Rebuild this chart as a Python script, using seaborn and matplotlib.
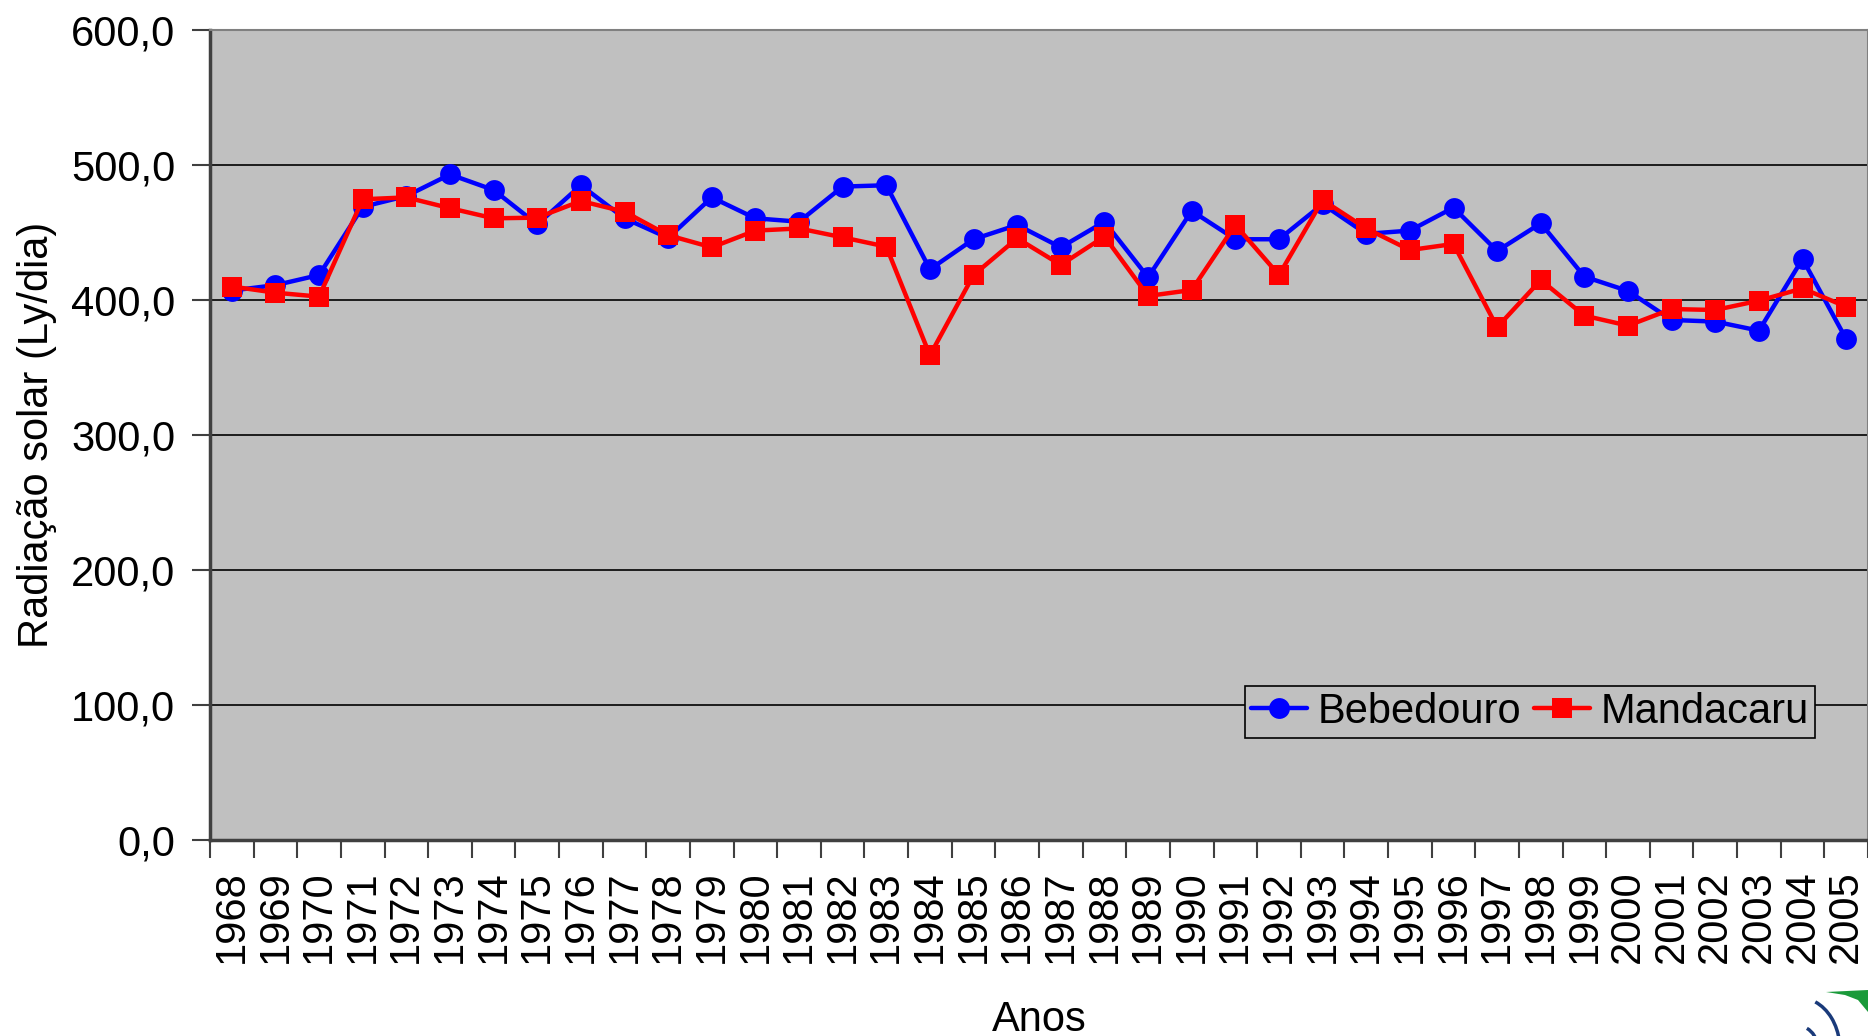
import matplotlib
matplotlib.use("Agg")
import matplotlib.pyplot as plt
import seaborn as sns
import pandas as pd
import numpy as np
from matplotlib.ticker import FuncFormatter, FixedLocator
from matplotlib.patches import Polygon, Arc

sns.set_theme(style="white")
plt.rcParams['font.family'] = ['Liberation Sans', 'DejaVu Sans']
plt.rcParams['text.color'] = 'black'
plt.rcParams['axes.labelcolor'] = 'black'
plt.rcParams['xtick.color'] = 'black'
plt.rcParams['ytick.color'] = 'black'

years = list(range(1968, 2006))
bebedouro = [407, 411, 418.5, 469, 477, 493, 481.5, 456, 485, 460.5, 446, 476, 460.5,
             458, 484, 485, 422.7, 445, 455.6, 439, 458, 416.8, 466, 445, 445,
             471, 449, 451.4, 468.4, 436.3, 456.8, 417.3, 406.7, 385.2, 384, 377.3, 430.4, 371]
mandacaru = [410, 405.4, 402.5, 474.6, 476, 468, 460.5, 461, 473.3, 465.4, 448, 439, 451.4,
             453, 446.4, 439.5, 359, 418.5, 445.7, 426, 447, 403, 407.4, 455.6, 418.5,
             474, 453, 437, 441.5, 379.8, 414.8, 388.4, 381, 393.3, 392.6, 399.5, 408.6, 395]
series_names = ["Bebedouro", "Mandacaru"]
y_ticks = [0, 100, 200, 300, 400, 500, 600]

df = pd.DataFrame({
    "Ano": years * 2,
    "Radiação": bebedouro + mandacaru,
    "Local": [series_names[0]] * len(years) + [series_names[1]] * len(years),
})

FS = 30
W, H = 1868, 1036

fig = plt.figure(figsize=(18.68, 10.36), dpi=100)
ax = fig.add_axes([210 / W, 1 - 840 / H, 1 - 210 / W, (840 - 30) / H])
ax.set_facecolor("#c0c0c0")

sns.lineplot(data=df, x="Ano", y="Radiação", hue="Local", style="Local",
             palette={"Bebedouro": "#0000ff", "Mandacaru": "#ff0000"},
             markers={"Bebedouro": "o", "Mandacaru": "s"},
             dashes=False, linewidth=3.2, markersize=15, markeredgewidth=0,
             ax=ax, legend=True, zorder=3)

ax.set_xlim(1967.5, 2005.5)
ax.set_ylim(0, 600)
ax.yaxis.set_major_locator(FixedLocator(y_ticks))
ax.yaxis.set_major_formatter(FuncFormatter(lambda v, p: f"{v:.1f}".replace(".", ",")))
ax.grid(axis="y", color="black", linewidth=1.2, zorder=1)
ax.set_axisbelow(True)

ax.set_xticks(years)
ax.set_xticklabels([str(y) for y in years], rotation=90, fontsize=FS)
ax.set_xticks(np.arange(1967.5, 2006, 1), minor=True)
ax.tick_params(axis="x", which="major", length=0, pad=22)
ax.tick_params(axis="x", which="minor", length=13, width=1.5, color="#404040", direction="out", bottom=True)
ax.tick_params(axis="y", which="major", length=13, width=1.5, color="#404040", direction="out",
               labelsize=FS, left=True, pad=12)

for side, sp in ax.spines.items():
    sp.set_color("#808080")
    sp.set_linewidth(1.5)
ax.spines["left"].set_color("#404040")
ax.spines["left"].set_linewidth(2.5)
ax.spines["bottom"].set_color("#404040")
ax.spines["bottom"].set_linewidth(2.5)

ax.set_xlabel("Anos", fontsize=FS, labelpad=26)
ax.set_ylabel("Radiação solar (Ly/dia)", fontsize=FS, labelpad=10)

handles, labels = ax.get_legend_handles_labels()
leg = ax.legend(handles, labels, loc="lower right", bbox_to_anchor=(1815 / W, 1 - 738 / H),
                bbox_transform=fig.transFigure, ncol=2, fontsize=FS, frameon=True,
                fancybox=False, edgecolor="black", facecolor="#c0c0c0",
                handlelength=1.35, handletextpad=0.25, columnspacing=0.3,
                borderpad=0.15, borderaxespad=0)
leg.get_frame().set_linewidth(1.2)
leg.get_frame().set_alpha(1)

# partial logo in the bottom-right corner
logo = Polygon([(1826 / W, 1 - 992 / H), (1868 / W, 1 - 990 / H), (1868 / W, 1 - 1012 / H),
                (1858 / W, 1 - 1000 / H), (1845 / W, 1 - 995 / H)],
               closed=True, transform=fig.transFigure, facecolor="#1a9a3a", edgecolor="none")
fig.patches.append(logo)
for cx, r in [(1800, 40), (1800, 18)]:
    arc = Arc((cx / W, 1 - 1050 / H), 2 * r / W, 2 * r * 1.3 / H, theta1=20, theta2=80,
              transform=fig.transFigure, color="#1a3a7a", linewidth=2.5)
    fig.patches.append(arc)

fig.savefig("out.png", dpi=100)
